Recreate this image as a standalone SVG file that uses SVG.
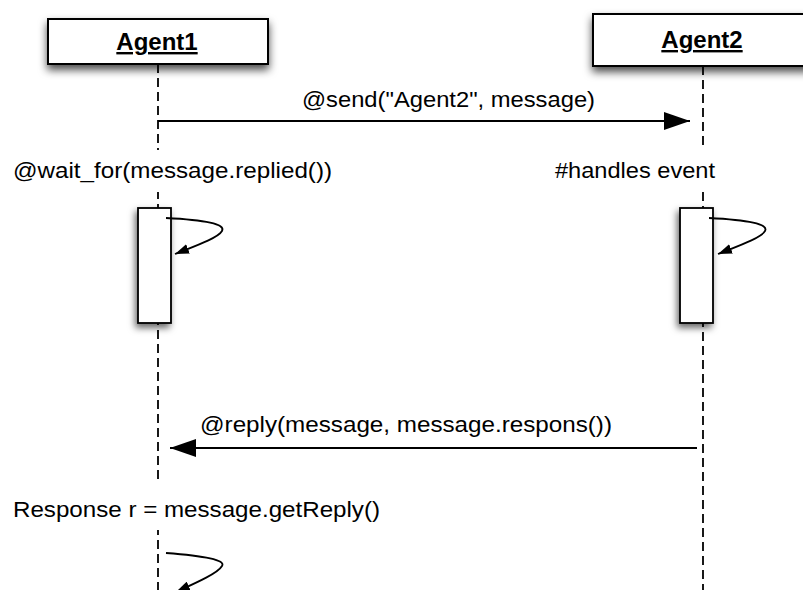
<svg xmlns="http://www.w3.org/2000/svg" width="803" height="590" viewBox="0 0 803 590">
  <style>
    .head { fill: #fff; stroke: #000; stroke-width: 2; }
    .act { fill: #fff; stroke: #000; stroke-width: 1.8; }
    .life { stroke: #000; stroke-width: 1.8; stroke-dasharray: 9 5; fill: none; }
    .msg { stroke: #000; stroke-width: 2; fill: none; }
    .self { stroke: #000; stroke-width: 1.8; fill: none; }
    .lbl { font-family: "Liberation Sans", Arial, sans-serif; font-size: 22px; fill: #000; }
    .name { font-family: "Liberation Sans", Arial, sans-serif; font-size: 24px; font-weight: bold; fill: #000; text-decoration: underline; }
  </style>
  <defs>
    <filter id="shadow" x="-20%" y="-20%" width="140%" height="170%">
      <feDropShadow dx="0" dy="5" stdDeviation="4" flood-color="#000" flood-opacity="0.7"/>
    </filter>
    <filter id="shadowAct" x="-60%" y="-10%" width="220%" height="130%">
      <feDropShadow dx="-2" dy="4" stdDeviation="3.5" flood-color="#000" flood-opacity="0.6"/>
    </filter>
    <marker id="bigHead" viewBox="0 0 26 18" refX="26" refY="9" markerWidth="26" markerHeight="18" markerUnits="userSpaceOnUse" orient="auto">
      <path d="M0,0 L26,9 L0,18 Z" fill="#000"/>
    </marker>
    <marker id="smallHead" viewBox="0 0 14 10" refX="14" refY="5" markerWidth="14" markerHeight="10" markerUnits="userSpaceOnUse" orient="auto">
      <path d="M0,0 L14,5 L0,10 Z" fill="#000"/>
    </marker>
  </defs>

  <rect width="803" height="590" fill="#fff"/>

  <!-- lifelines -->
  <g id="lifelines">
    <line class="life" x1="158" y1="64" x2="158" y2="590"/>
    <line class="life" x1="703" y1="66" x2="703" y2="590"/>
  </g>

  <!-- participants -->
  <g id="agent1">
    <rect class="head" x="48" y="19" width="220" height="45" filter="url(#shadow)"/>
    <text class="name" x="157" y="50" text-anchor="middle">Agent1</text>
  </g>
  <g id="agent2">
    <rect class="head" x="593" y="14" width="222" height="52" filter="url(#shadow)"/>
    <text class="name" x="702" y="48" text-anchor="middle">Agent2</text>
  </g>

  <!-- notes on the lifelines -->
  <g id="note-wait">
    <rect x="8" y="150" width="330" height="42" fill="#fff"/>
    <text class="lbl" x="13" y="178" textLength="319" lengthAdjust="spacingAndGlyphs">@wait_for(message.replied())</text>
  </g>
  <g id="note-handles">
    <rect x="550" y="150" width="170" height="42" fill="#fff"/>
    <text class="lbl" x="555" y="178" textLength="160" lengthAdjust="spacingAndGlyphs">#handles event</text>
  </g>
  <g id="note-response">
    <rect x="8" y="484" width="378" height="46" fill="#fff"/>
    <text class="lbl" x="13" y="517" textLength="367" lengthAdjust="spacingAndGlyphs">Response r = message.getReply()</text>
  </g>

  <!-- activations -->
  <g id="activation1">
    <rect class="act" x="138" y="208" width="33" height="115" filter="url(#shadowAct)"/>
  </g>
  <g id="activation2">
    <rect class="act" x="680" y="208" width="33" height="115" filter="url(#shadowAct)"/>
  </g>

  <!-- messages -->
  <g id="connectors">
    <line class="msg" x1="158" y1="121" x2="690" y2="121" marker-end="url(#bigHead)"/>
    <text class="lbl" x="302" y="107" textLength="293" lengthAdjust="spacingAndGlyphs">@send("Agent2", message)</text>

    <path class="self" d="M166,218 C205,220 226,224 222,231 C218,238 195,246 175,254" marker-end="url(#smallHead)"/>
    <path class="self" d="M709,218 C748,220 769,224 765,231 C761,238 738,246 718,254" marker-end="url(#smallHead)"/>

    <line class="msg" x1="697" y1="448" x2="170" y2="448" marker-end="url(#bigHead)"/>
    <text class="lbl" x="200" y="432" textLength="412" lengthAdjust="spacingAndGlyphs">@reply(message, message.respons())</text>

    <path class="self" d="M166,553 C205,556 226,560 222,566 C218,573 198,582 176,592" marker-end="url(#smallHead)"/>
  </g>
</svg>
